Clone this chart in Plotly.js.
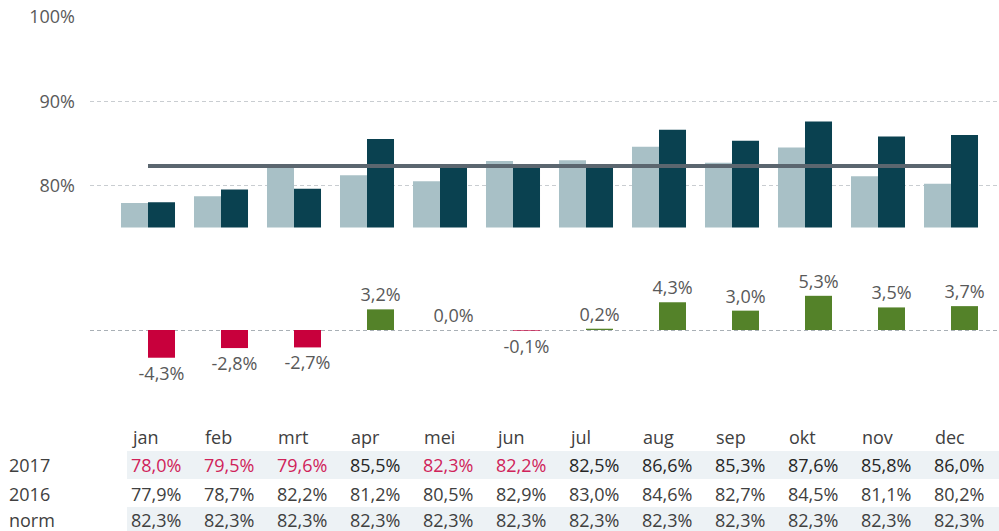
<!DOCTYPE html>
<html>
<head>
<meta charset="utf-8">
<script src="https://cdn.plot.ly/plotly-3.0.1.min.js"></script>
<style>html,body{margin:0;padding:0;background:#fff;}#chart{width:999px;height:531px;}</style>
</head>
<body>
<div id="chart"></div>
<script>
const months = ['jan','feb','mrt','apr','mei','jun','jul','aug','sep','okt','nov','dec'];
const rowLabels = ['2017','2016','norm'];
const y2017 = [78.0,79.5,79.6,85.5,82.3,82.2,82.5,86.6,85.3,87.6,85.8,86.0];
const y2016 = [77.9,78.7,82.2,81.2,80.5,82.9,83.0,84.6,82.7,84.5,81.1,80.2];
const norm  = [82.3,82.3,82.3,82.3,82.3,82.3,82.3,82.3,82.3,82.3,82.3,82.3];
const diff  = [-4.3,-2.8,-2.7,3.2,0.0,-0.1,0.2,4.3,3.0,5.3,3.5,3.7];
const yTicks = [80,90,100];

const W = 999, H = 531;
const FONT = 'Open Sans, Noto Sans, sans-serif';
const FS = 18;
const fmt = v => v.toFixed(1).replace('.', ',') + '%';
const py = p => (H - p) / H;   // pixel row -> paper y
const px = p => (p - 90) / (W - 90); // pixel col -> paper x

const idx = months.map((m, i) => i);

const traces = [
  {type:'bar', x: idx, y: y2016, xaxis:'x', yaxis:'y', marker:{color:'#a8c0c6'}, hoverinfo:'skip'},
  {type:'bar', x: idx, y: y2017, xaxis:'x', yaxis:'y', marker:{color:'#0a4150'}, hoverinfo:'skip'},
  {type:'scatter', mode:'lines', x: idx, y: norm, xaxis:'x', yaxis:'y',
   line:{color:'#5b666f', width:4}, hoverinfo:'skip'},
  {type:'bar', x: idx, y: diff, xaxis:'x', yaxis:'y2', offset:0, width:0.37,
   marker:{color: diff.map(v => v < 0 ? '#c8003c' : '#548229')},
   text: diff.map(fmt), textposition:'outside', cliponaxis:false, constraintext:'none',
   textfont:{family:FONT, size:FS, color:'#595959'}, hoverinfo:'skip'}
];

const annotations = [];
const rowY = [465, 493.5, 520];
months.forEach((m, i) => {
  annotations.push({xref:'x', yref:'paper', x:i, y:py(437), xanchor:'left', yanchor:'middle',
    xshift:-18, text:m, showarrow:false, font:{family:FONT, size:FS, color:'#404040'}});
});
const rows = [y2017, y2016, norm];
rows.forEach((arr, r) => {
  annotations.push({xref:'paper', yref:'paper', x:px(7), y:py(rowY[r]), xanchor:'left', yanchor:'middle',
    text:rowLabels[r], showarrow:false, font:{family:FONT, size:FS, color:'#404040'}});
  arr.forEach((v, i) => {
    let c = r === 0 ? (v <= norm[i] ? '#d0235a' : '#262626') : '#404040';
    annotations.push({xref:'x', yref:'paper', x:i, y:py(rowY[r]), xanchor:'left', yanchor:'middle',
      xshift:-19, text:fmt(v), showarrow:false, font:{family:FONT, size:FS, color:c}});
  });
});

const shapes = [
  {type:'rect', xref:'paper', yref:'paper', x0:px(127), x1:1, y0:py(479), y1:py(451),
   fillcolor:'#edf2f5', line:{width:0}, layer:'below'},
  {type:'rect', xref:'paper', yref:'paper', x0:px(127), x1:1, y0:-0.02, y1:py(507),
   fillcolor:'#edf2f5', line:{width:0}, layer:'below'}
];

const layout = {
  width: W, height: H,
  margin:{l:90, r:0, t:0, b:0},
  paper_bgcolor:'#fff', plot_bgcolor:'rgba(0,0,0,0)',
  showlegend:false,
  barmode:'group', bargap:0.26, bargroupgap:0,
  font:{family:FONT, size:FS, color:'#595959'},
  xaxis:{range:[-58/73, 851/73], showgrid:false, zeroline:false, showticklabels:false,
         ticks:'', showline:false, fixedrange:true},
  yaxis:{domain:[py(227.5), py(17)], range:[75,100], tickvals:yTicks,
         ticktext: yTicks.map(v => v + '%'), showgrid:true, gridcolor:'#c9cdd1',
         griddash:'4px,3px', gridwidth:1, zeroline:false, showline:false, ticks:'',
         ticklabelstandoff:14, tickfont:{family:FONT, size:FS, color:'#595959'}},
  yaxis2:{domain:[py(400), py(250)], range:[-(400-330)/6.45, (330-250)/6.45],
          tickvals:[0], showticklabels:false, showgrid:true, gridcolor:'#a9b0b6',
          griddash:'4px,3px', gridwidth:1, zeroline:false, showline:false, ticks:''},
  annotations, shapes
};

Plotly.newPlot('chart', traces, layout, {displayModeBar:false, staticPlot:true});
</script>
</body>
</html>
